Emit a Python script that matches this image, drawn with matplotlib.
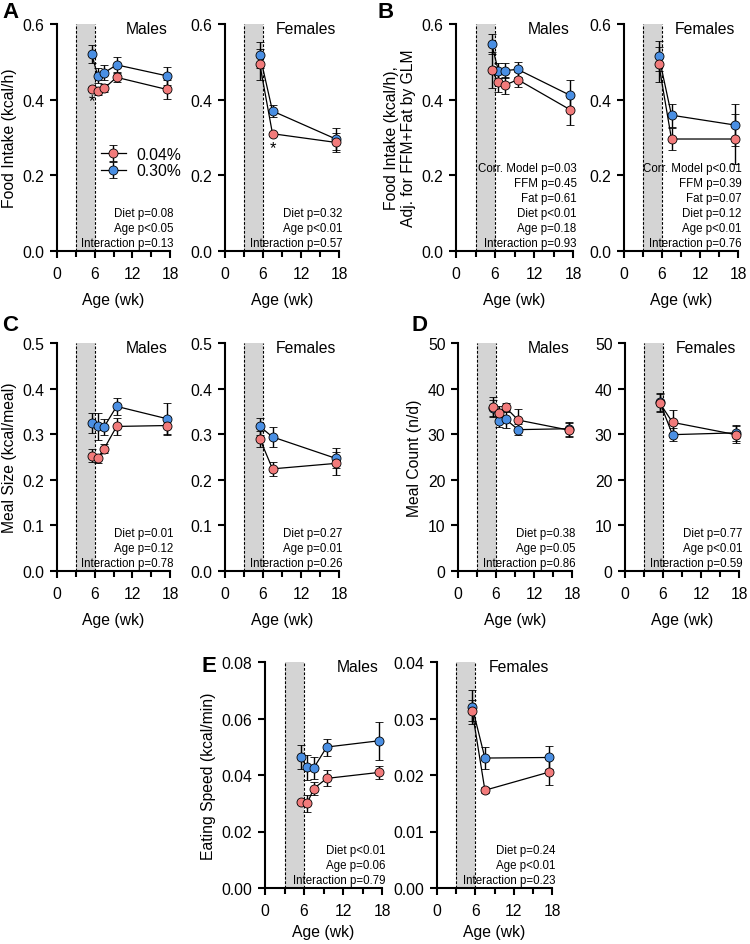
import matplotlib
matplotlib.use("Agg")
import matplotlib.pyplot as plt
from matplotlib.ticker import MultipleLocator, FormatStrFormatter

plt.rcParams['font.family'] = ['Liberation Sans', 'DejaVu Sans']

W, H = 750, 945
RED = '#F27B7B'
BLUE = '#4A8FE3'

ages_m = [5.5, 6.5, 7.5, 9.5, 17.5]
ages_f = [5.5, 7.5, 17.5]
diet_labels = ['0.04%', '0.30%']

# A: food intake (kcal/h)
fi_m_low = [0.428, 0.423, 0.430, 0.459, 0.427]
fi_m_low_err = [0.005, 0.011, 0.011, 0.012, 0.024]
fi_m_high = [0.521, 0.463, 0.471, 0.492, 0.463]
fi_m_high_err = [0.023, 0.02, 0.02, 0.02, 0.024]
fi_f_low = [0.493, 0.310, 0.287]
fi_f_low_err = [0.04, 0.005, 0.025]
fi_f_high = [0.518, 0.370, 0.296]
fi_f_high_err = [0.035, 0.015, 0.03]

# B: food intake adjusted by GLM
adj_m_low = [0.478, 0.446, 0.438, 0.453, 0.374]
adj_m_low_err = [0.047, 0.025, 0.022, 0.02, 0.04]
adj_m_high = [0.547, 0.477, 0.477, 0.480, 0.412]
adj_m_high_err = [0.027, 0.02, 0.02, 0.02, 0.04]
adj_f_low = [0.493, 0.296, 0.296]
adj_f_low_err = [0.045, 0.028, 0.066]
adj_f_high = [0.515, 0.359, 0.333]
adj_f_high_err = [0.04, 0.03, 0.055]

# C: meal size (kcal/meal)
ms_m_low = [0.253, 0.247, 0.268, 0.317, 0.319]
ms_m_low_err = [0.015, 0.01, 0.01, 0.018, 0.018]
ms_m_high = [0.324, 0.317, 0.316, 0.361, 0.334]
ms_m_high_err = [0.022, 0.03, 0.018, 0.018, 0.035]
ms_f_low = [0.290, 0.224, 0.236]
ms_f_low_err = [0.018, 0.015, 0.025]
ms_f_high = [0.317, 0.294, 0.247]
ms_f_high_err = [0.018, 0.022, 0.022]

# D: meal count (n/d)
mc_m_low = [35.9, 34.7, 35.9, 33.1, 30.9]
mc_m_low_err = [2.2, 1.5, 1.0, 2.5, 1.5]
mc_m_high = [35.8, 33.0, 33.3, 31.0, 31.2]
mc_m_high_err = [1.8, 1.5, 2.0, 1.2, 1.5]
mc_f_low = [36.8, 32.6, 29.9]
mc_f_low_err = [2.0, 2.8, 1.8]
mc_f_high = [37.0, 29.9, 30.3]
mc_f_high_err = [2.0, 1.5, 1.8]

# E: eating speed (kcal/min)
es_m_low = [0.0304, 0.0300, 0.0352, 0.0388, 0.0409]
es_m_low_err = [0.0005, 0.003, 0.0022, 0.0028, 0.0022]
es_m_high = [0.0463, 0.0427, 0.0425, 0.0499, 0.0521]
es_m_high_err = [0.0042, 0.0045, 0.004, 0.003, 0.0068]
es_f_low = [0.0314, 0.0173, 0.0205]
es_f_low_err = [0.0018, 0.0005, 0.0023]
es_f_high = [0.0321, 0.0230, 0.0231]
es_f_high_err = [0.003, 0.0019, 0.0021]

FS = 11.3

fig = plt.figure(figsize=(W / 100, H / 100), dpi=100)


def px_axes(l, r, t, b):
    return fig.add_axes([l / W, 1 - b / H, (r - l) / W, (b - t) / H])


def panel(ax, ages, low, low_err, high, high_err, ymax, ystep, fmt, sex, stats,
          ylabel=None, xpad=8):
    ax.axvspan(3, 6, color='#D4D4D4', lw=0, zorder=0)
    for xv in (3, 6):
        ax.axvline(xv, color='black', lw=0.8, ls=(0, (2.5, 1.5)), zorder=1)
    for vals, errs, col, lab in ((high, high_err, BLUE, diet_labels[1]),
                                 (low, low_err, RED, diet_labels[0])):
        ax.errorbar(ages, vals, yerr=errs, color='black', lw=0.9, elinewidth=1.0,
                    capsize=3, capthick=1.0, marker='o', markersize=6.5,
                    markerfacecolor=col, markeredgecolor='black', markeredgewidth=0.6,
                    label=lab, clip_on=False, zorder=3)
    ax.set_xlim(0, 18)
    ax.set_ylim(0, ymax)
    ax.xaxis.set_major_locator(MultipleLocator(6))
    ax.xaxis.set_minor_locator(MultipleLocator(3))
    ax.yaxis.set_major_locator(MultipleLocator(ystep))
    ax.yaxis.set_major_formatter(FormatStrFormatter(fmt))
    for s in ('top', 'right'):
        ax.spines[s].set_visible(False)
    for s in ('left', 'bottom'):
        ax.spines[s].set_linewidth(1.5)
    ax.tick_params(which='major', length=5, width=1.5, labelsize=FS, pad=4)
    ax.tick_params(axis='x', which='major', pad=6)
    ax.tick_params(which='minor', length=4, width=1.5)
    ax.set_xlabel('Age (wk)', fontsize=FS, labelpad=xpad)
    if ylabel:
        ax.set_ylabel(ylabel, fontsize=FS, labelpad=4)
    ax.text(0.975, 1.015, sex, transform=ax.transAxes, ha='right', va='top', fontsize=FS)
    ax.text(1.03, 0.01, '\n'.join(stats), transform=ax.transAxes, ha='right', va='bottom',
            fontsize=8.3, linespacing=1.33, zorder=5)
    return ax


# row A / B
axA1 = px_axes(57, 170, 25, 252)
panel(axA1, ages_m, fi_m_low, fi_m_low_err, fi_m_high, fi_m_high_err, 0.6, 0.2, '%.1f', 'Males',
      ['Diet p=0.08', 'Age p<0.05', 'Interaction p=0.13'], 'Food Intake (kcal/h)')
axA1.text(5.5, 0.398, '*', ha='center', va='center', fontsize=12)
h, l = axA1.get_legend_handles_labels()
axA1.legend(h[::-1], l[::-1], loc='center left', bbox_to_anchor=(0.33, 0.39), frameon=False,
            fontsize=FS, handlelength=1.6, handletextpad=0.7, labelspacing=0.1, borderaxespad=0)

axA2 = px_axes(225, 339, 25, 252)
panel(axA2, ages_f, fi_f_low, fi_f_low_err, fi_f_high, fi_f_high_err, 0.6, 0.2, '%.1f', 'Females',
      ['Diet p=0.32', 'Age p<0.01', 'Interaction p=0.57'])
axA2.text(7.5, 0.272, '*', ha='center', va='center', fontsize=12)

axB1 = px_axes(456, 573, 25, 252)
panel(axB1, ages_m, adj_m_low, adj_m_low_err, adj_m_high, adj_m_high_err, 0.6, 0.2, '%.1f', 'Males',
      ['Corr. Model p=0.03', 'FFM p=0.45', 'Fat p=0.61', 'Diet p<0.01', 'Age p=0.18',
       'Interaction p=0.93'], 'Food Intake (kcal/h),\nAdj. for FFM+Fat by GLM')

axB2 = px_axes(624, 738, 25, 252)
panel(axB2, ages_f, adj_f_low, adj_f_low_err, adj_f_high, adj_f_high_err, 0.6, 0.2, '%.1f', 'Females',
      ['Corr. Model p<0.01', 'FFM p=0.39', 'Fat p=0.07', 'Diet p=0.12', 'Age p<0.01',
       'Interaction p=0.76'])

# row C / D
axC1 = px_axes(57, 170, 344, 572)
panel(axC1, ages_m, ms_m_low, ms_m_low_err, ms_m_high, ms_m_high_err, 0.5, 0.1, '%.1f', 'Males',
      ['Diet p=0.01', 'Age p=0.12', 'Interaction p=0.78'], 'Meal Size (kcal/meal)')

axC2 = px_axes(225, 339, 344, 572)
panel(axC2, ages_f, ms_f_low, ms_f_low_err, ms_f_high, ms_f_high_err, 0.5, 0.1, '%.1f', 'Females',
      ['Diet p=0.27', 'Age p=0.01', 'Interaction p=0.26'])

axD1 = px_axes(458, 572, 344, 572)
panel(axD1, ages_m, mc_m_low, mc_m_low_err, mc_m_high, mc_m_high_err, 50, 10, '%d', 'Males',
      ['Diet p=0.38', 'Age p=0.05', 'Interaction p=0.86'], 'Meal Count (n/d)')

axD2 = px_axes(625, 739, 344, 572)
panel(axD2, ages_f, mc_f_low, mc_f_low_err, mc_f_high, mc_f_high_err, 50, 10, '%d', 'Females',
      ['Diet p=0.77', 'Age p<0.01', 'Interaction p=0.59'])

# row E
axE1 = px_axes(265, 382, 663, 889)
panel(axE1, ages_m, es_m_low, es_m_low_err, es_m_high, es_m_high_err, 0.08, 0.02, '%.2f', 'Males',
      ['Diet p<0.01', 'Age p=0.06', 'Interaction p=0.79'], 'Eating Speed (kcal/min)', xpad=4)

axE2 = px_axes(437, 552, 663, 889)
panel(axE2, ages_f, es_f_low, es_f_low_err, es_f_high, es_f_high_err, 0.04, 0.01, '%.2f', 'Females',
      ['Diet p=0.24', 'Age p<0.01', 'Interaction p=0.23'], xpad=4)

# panel letters
for letter, x, y in (('A', 2, 13), ('B', 377, 13), ('C', 2, 326), ('D', 411, 326), ('E', 202, 666)):
    fig.text(x / W, 1 - y / H, letter, fontsize=16, fontweight='bold', va='center', ha='left')

fig.savefig('out.png', dpi=100)
